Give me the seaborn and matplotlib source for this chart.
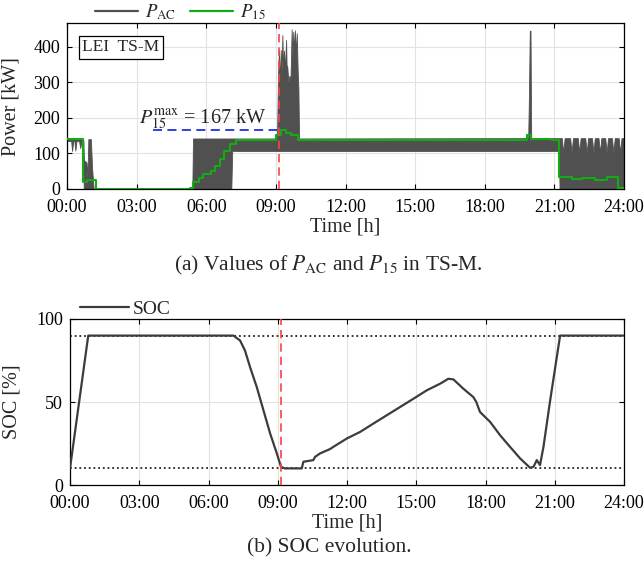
import matplotlib
matplotlib.use("Agg")
import numpy as np
import pandas as pd
import matplotlib.pyplot as plt
from matplotlib.lines import Line2D
import seaborn as sns

# ---------------- data ----------------
# P_AC envelope (rapidly oscillating signal shown as min/max band), hours / kW
pac_t = [0.00, 0.18, 0.22, 0.27, 0.32, 0.36, 0.41, 0.52, 0.57, 0.63, 0.70, 0.72,
         0.74, 0.84, 0.88, 0.92, 0.97, 1.03, 1.08, 1.15, 1.20,
         5.40, 5.43, 7.08, 7.12,
         9.05, 9.09, 9.13, 9.17, 9.21, 9.25, 9.28, 9.31, 9.35, 9.39, 9.44, 9.47,
         9.49, 9.54, 9.58, 9.63, 9.68, 9.71, 9.75, 9.78, 9.82, 9.86, 9.90, 9.94,
         9.97, 10.00,
         19.87, 19.90, 19.94, 19.97, 20.00, 20.05,
         21.20, 21.22,
         21.32, 21.38, 21.44, 21.68, 21.74, 21.80, 22.01, 22.07, 22.13,
         22.33, 22.39, 22.45, 22.62, 22.68, 22.74, 22.90, 22.96, 23.02,
         23.19, 23.25, 23.31, 23.48, 23.54, 23.60, 23.77, 23.83, 23.89, 24.00]
pac_lo = [135, 135, 107, 135, 135, 108, 135, 135, 115, 135, 135, 0,
          0, 0, 0, 0, 0, 0, 0, 0, 0,
          0, 0, 0, 107,
          107, 107, 107, 107, 107, 107, 107, 107, 107, 107, 107, 107,
          107, 107, 107, 107, 107, 107, 107, 107, 107, 107, 107, 107,
          107, 107,
          107, 107, 107, 107, 107, 107,
          107, 0,
          0, 0, 0, 0, 0, 0, 0, 0, 0,
          0, 0, 0, 0, 0, 0, 0, 0, 0,
          0, 0, 0, 0, 0, 0, 0, 0, 0, 0]
pac_hi = [140, 140, 140, 140, 140, 140, 140, 140, 140, 140, 140, 80,
          80, 75, 30, 140, 140, 140, 60, 0, 0,
          0, 142, 142, 142,
          142, 310, 390, 300, 391, 330, 433, 340, 389, 330, 419, 320,
          345, 300, 318, 310, 449, 370, 442, 380, 446, 380, 438, 330,
          283, 142,
          143, 250, 445, 445, 143, 143,
          143, 143,
          143, 102, 143, 143, 102, 143, 143, 102, 143,
          143, 102, 143, 143, 102, 143, 143, 102, 143,
          143, 102, 143, 143, 102, 143, 143, 102, 143, 143]

# P_15 (15-min average), step breakpoints
p15_t = [0.00, 0.70, 0.875, 1.25, 5.30, 5.44, 5.70, 5.87, 6.19, 6.38, 6.59, 6.78,
         7.02, 7.27, 9.00, 9.22, 9.44, 9.65, 9.97, 12.5, 15.0, 17.5, 19.80, 19.98,
         20.88, 21.21, 21.74, 22.17, 22.75, 23.25, 23.75, 24.00]
p15_v = [140, 20, 26, 0, 4, 19, 30, 42, 51, 65, 84, 107,
         126, 138, 151, 167, 156, 152, 137, 138, 137, 139, 153, 141,
         138, 33, 28, 31, 26, 33, 2, 2]

# SOC
soc_t = [0.00, 0.79, 7.08, 7.37, 7.58, 7.80, 8.09, 8.38, 8.67, 8.96, 9.14, 9.30,
         10.04, 10.11, 10.54, 10.62, 10.83, 11.27, 11.41, 11.99, 12.57, 13.14,
         13.72, 14.30, 14.88, 15.45, 16.03, 16.39, 16.61, 17.04, 17.47, 17.60,
         17.76, 18.20, 18.63, 19.06, 19.50, 19.93, 20.08, 20.22, 20.36, 20.51,
         20.80, 21.23, 24.00]
soc_v = [10, 90, 90, 87, 81, 71, 59, 45, 31, 19, 11, 10,
         10, 14, 15, 17, 19, 21.7, 23, 28, 32, 37,
         42, 47, 52, 57, 61, 64, 63.6, 58, 53, 50,
         44, 38, 30, 23, 16, 10.4, 11, 15, 12, 23,
         51, 90, 90]

soc_limits = [90, 10]
t_event = 9.13
p15_max = 167
xticks = [0, 3, 6, 9, 12, 15, 18, 21, 24]
xtick_labels = ["00:00", "03:00", "06:00", "09:00", "12:00", "15:00", "18:00", "21:00", "24:00"]

# ---------------- style ----------------
sns.set_theme(style="whitegrid")
plt.rcParams.update({
    "font.family": ["Liberation Serif", "DejaVu Serif"],
    "mathtext.fontset": "stix",
    "axes.edgecolor": "black",
    "axes.linewidth": 0.9,
    "grid.color": "#e2e2e2",
    "grid.linewidth": 0.8,
    "xtick.direction": "in",
    "ytick.direction": "in",
    "xtick.top": True,
    "xtick.bottom": True,
    "ytick.left": True,
    "ytick.right": True,
    "xtick.color": "black",
    "ytick.color": "black",
    "xtick.major.size": 3.5,
    "ytick.major.size": 3.5,
    "xtick.major.width": 0.8,
    "ytick.major.width": 0.8,
    "font.size": 13,
    "xtick.labelsize": 13,
    "ytick.labelsize": 13,
    "axes.labelsize": 14.5,
})

gray = "#505050"
green = "#13aa13"

fig = plt.figure(figsize=(6.44, 5.67), dpi=100)
ax1 = fig.add_axes([0.104, 0.6667, 0.865, 0.2923])
ax2 = fig.add_axes([0.1087, 0.1446, 0.8603, 0.2928])

# ---------------- top: power ----------------
ax1.fill_between(pac_t, pac_lo, pac_hi, color=gray, edgecolor=gray, lw=0.6, zorder=2)
df15 = pd.DataFrame({"t": p15_t, "p": p15_v})
sns.lineplot(data=df15, x="t", y="p", drawstyle="steps-post", color=green, lw=1.5,
             estimator=None, sort=False, ax=ax1, zorder=3)
ax1.axvline(t_event, color="#ff4040", lw=1.2, dashes=(5, 3), zorder=4)
ax1.plot([3.69, 9.03], [p15_max, p15_max], color="#1f2fe0", lw=1.3, dashes=(5, 3), zorder=4)
ax1.text(3.1, 197, r"$P_{15}^{\mathrm{max}}$ = 167 kW", fontsize=14.5,
         ha="left", va="center", zorder=5)
ax1.text(0.097, 0.854, "LEI  TS-M", transform=ax1.transAxes, fontsize=12.5,
         ha="center", va="center",
         bbox=dict(boxstyle="square,pad=0.2", fc="white", ec="black", lw=0.9), zorder=6)

ax1.set_xlim(0, 24)
ax1.set_ylim(0, 466)
ax1.set_xticks(xticks)
ax1.set_xticklabels(xtick_labels)
ax1.set_yticks([0, 100, 200, 300, 400])
ax1.tick_params(axis="y", pad=5)
ax1.tick_params(axis="x", pad=7)
ax1.set_xlabel("Time [h]", labelpad=1)
ax1.set_ylabel("Power [kW]")
ax1.yaxis.set_label_coords(-0.084, 0.5)
for s in ax1.spines.values():
    s.set_color("black")

h1 = [Line2D([], [], color=gray, lw=1.6), Line2D([], [], color=green, lw=1.6)]
ax1.legend(h1, [r"$P_{\mathrm{AC}}$", r"$P_{15}$"], loc="center left",
           bbox_to_anchor=(0.05, 1.065), ncol=2, frameon=False, handlelength=2.3,
           handletextpad=0.4, columnspacing=0.7, borderpad=0, borderaxespad=0,
           fontsize=13.5)

# ---------------- bottom: SOC ----------------
dfs = pd.DataFrame({"t": soc_t, "soc": soc_v})
for lvl in soc_limits:
    ax2.axhline(lvl, color="#222222", lw=1.3, ls=(0, (1, 1.6)), zorder=2)
ax2.axvline(t_event, color="#ff4040", lw=1.2, dashes=(5, 3), zorder=4)
sns.lineplot(data=dfs, x="t", y="soc", color="#3c3c3c", lw=1.6, estimator=None,
             sort=False, ax=ax2, zorder=3)
ax2.set_xlim(0, 24)
ax2.set_ylim(0, 100)
ax2.set_xticks(xticks)
ax2.set_xticklabels(xtick_labels)
ax2.set_yticks([0, 50, 100])
ax2.tick_params(axis="y", pad=5)
ax2.tick_params(axis="x", pad=7)
ax2.set_xlabel("Time [h]", labelpad=1)
ax2.set_ylabel("SOC [%]")
ax2.yaxis.set_label_coords(-0.087, 0.5)
for s in ax2.spines.values():
    s.set_color("black")
h2 = [Line2D([], [], color="#3c3c3c", lw=1.6)]
ax2.legend(h2, ["SOC"], loc="center left", bbox_to_anchor=(0.018, 1.06),
           frameon=False, handlelength=2.5, handletextpad=0.2, borderpad=0,
           borderaxespad=0, fontsize=14)

# ---------------- captions ----------------
fig.text(328 / 644, 1 - 265 / 567, r"(a) Values of $P_{\mathrm{AC}}$ and $P_{15}$ in TS-M.",
         ha="center", va="center", fontsize=15.5)
fig.text(329 / 644, 1 - 548 / 567, "(b) SOC evolution.", ha="center", va="center",
         fontsize=15.5)

fig.savefig("out.png", dpi=100)
